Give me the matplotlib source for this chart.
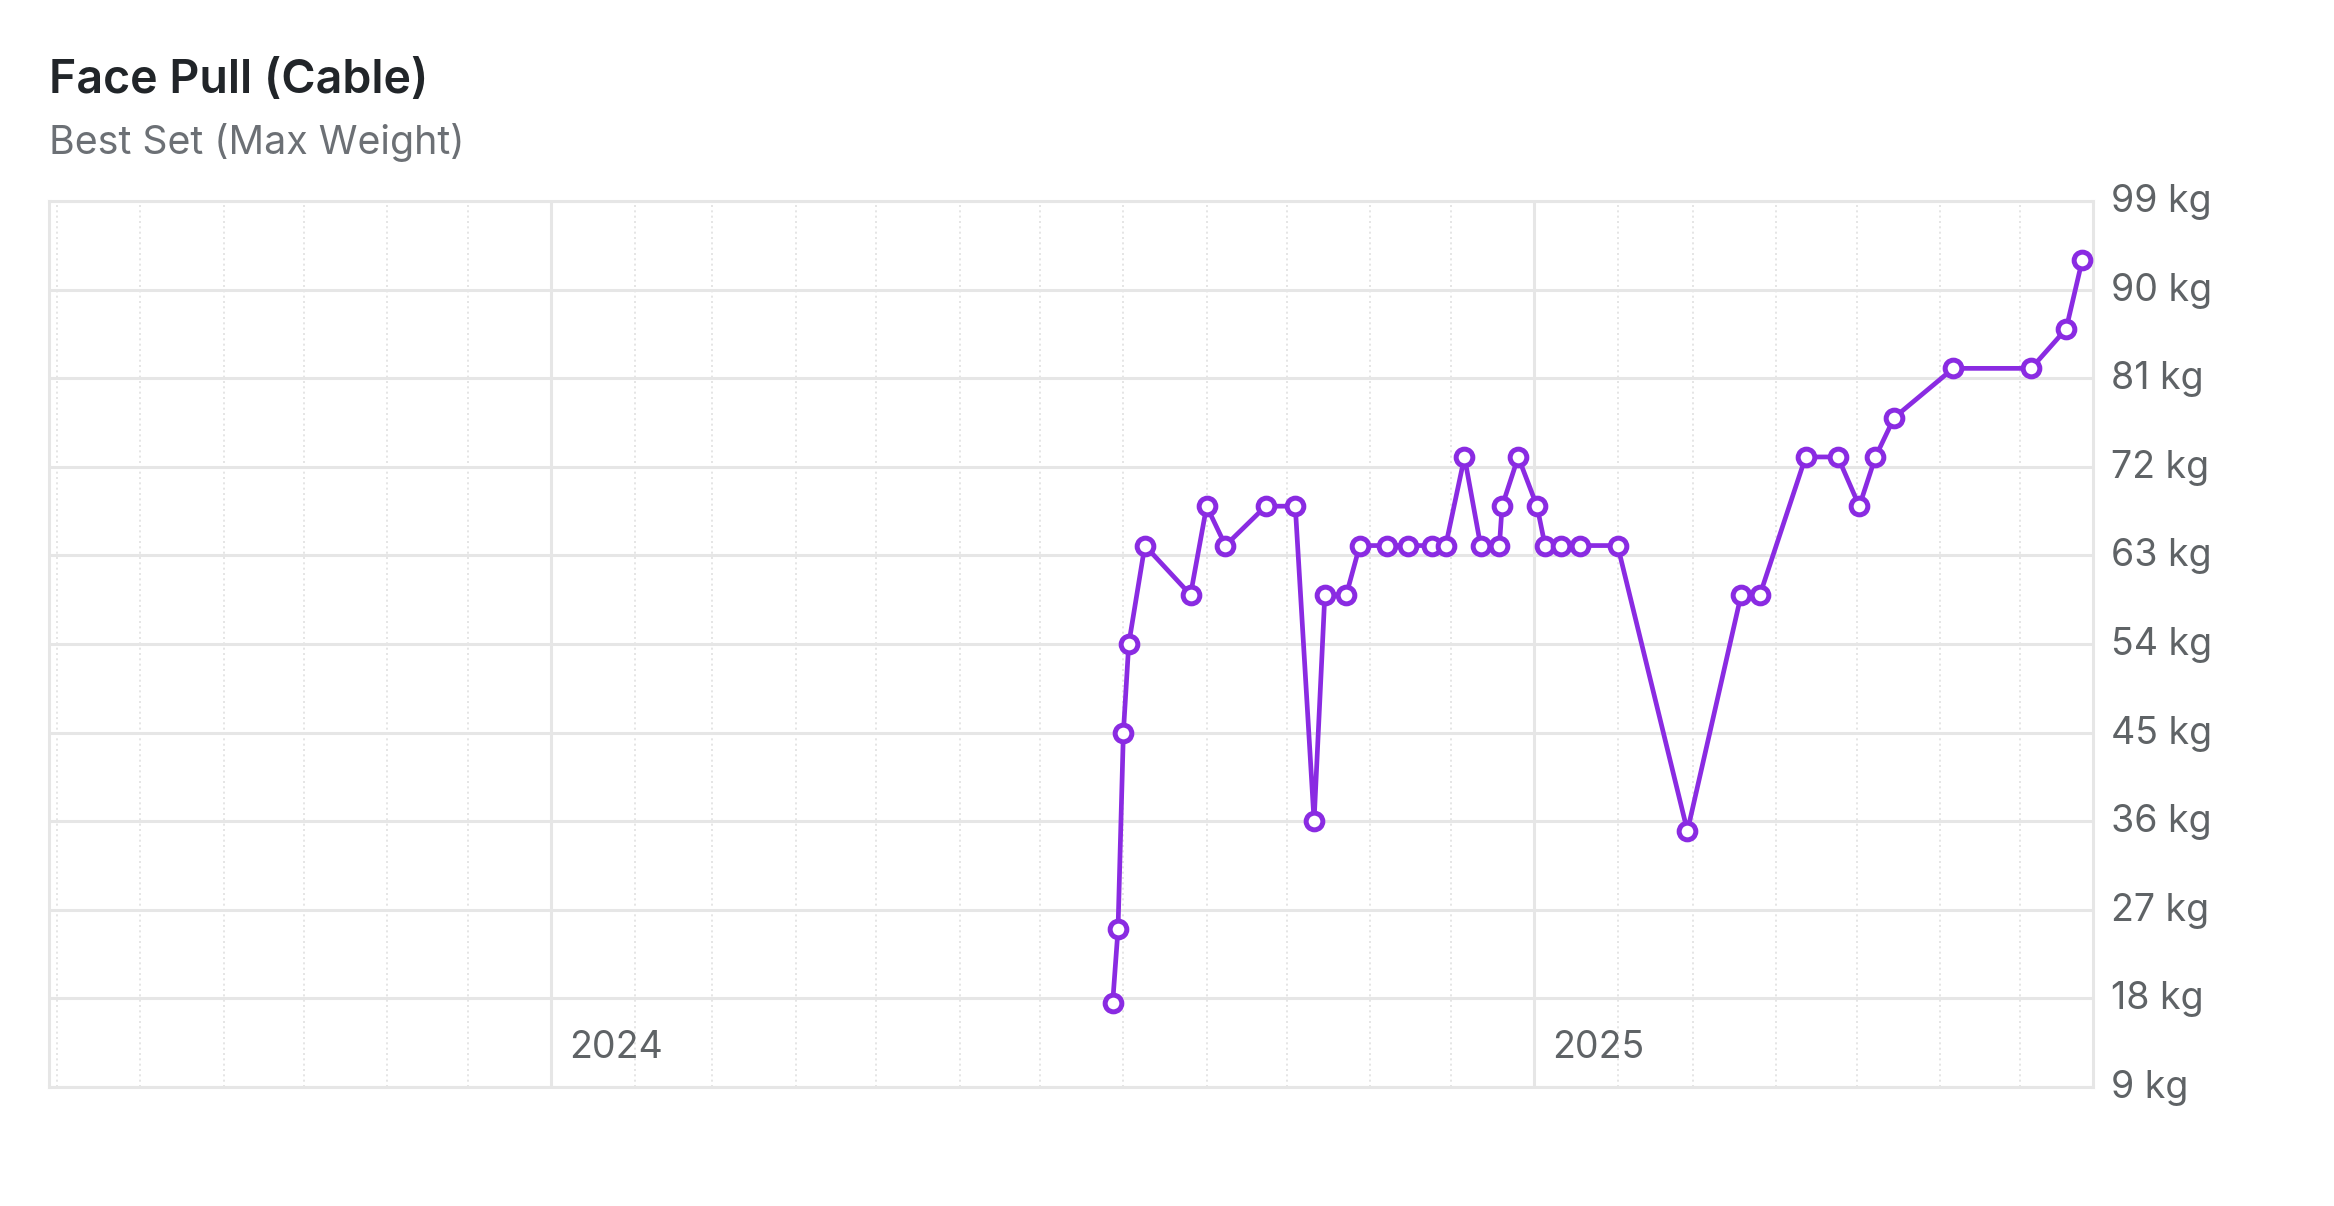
import matplotlib
matplotlib.use("Agg")
import matplotlib.pyplot as plt
import matplotlib.dates as mdates
import matplotlib.transforms as mtransforms
import pandas as pd

# ---- data ----
dates = [
    "2024-07-28", "2024-07-30", "2024-08-01", "2024-08-03", "2024-08-09",
    "2024-08-26", "2024-09-01", "2024-09-08", "2024-09-23", "2024-10-04",
    "2024-10-11", "2024-10-15", "2024-10-23", "2024-10-28", "2024-11-07",
    "2024-11-15", "2024-11-24", "2024-11-29", "2024-12-06", "2024-12-12",
    "2024-12-19", "2024-12-20", "2024-12-26", "2025-01-02", "2025-01-05",
    "2025-01-11", "2025-01-18", "2025-02-01", "2025-02-27", "2025-03-19",
    "2025-03-26", "2025-04-12", "2025-04-24", "2025-05-02", "2025-05-08",
    "2025-05-15", "2025-06-06", "2025-07-05", "2025-07-18", "2025-07-24",
]
weights = [
    17.5, 25, 45, 54, 64,
    59, 68, 64, 68, 68,
    36, 59, 59, 64, 64,
    64, 64, 64, 73, 64,
    64, 68, 73, 68, 64,
    64, 64, 64, 35, 59,
    59, 73, 73, 68, 73,
    77, 82, 82, 86, 93,
]
y_ticks = [9, 18, 27, 36, 45, 54, 63, 72, 81, 90, 99]
y_tick_labels = [f"{v} kg" for v in y_ticks]
year_ticks = ["2024-01-01", "2025-01-01"]
year_labels = ["2024", "2025"]
x_range = ["2023-06-28", "2025-07-28"]

title = "Face Pull (Cable)"
subtitle = "Best Set (Max Weight)"

# ---- style ----
FONT = ["Inter", "DejaVu Sans"]
plt.rcParams["font.family"] = FONT
PURPLE = "#8a2be2"
GRID = "#e6e6e6"
MINOR = "#e0e0e0"
LABEL = "#5f6366"

W, H = 2334, 1206
fig = plt.figure(figsize=(W / 100, H / 100), dpi=100)
left, right, top, bottom = 49, 2093, 201, 1087
ax = fig.add_axes([left / W, 1 - bottom / H, (right - left) / W, (bottom - top) / H])

x = pd.to_datetime(dates)
ax.plot(x, weights, color=PURPLE, lw=3.4, marker="o", ms=12,
        markerfacecolor="white", markeredgecolor=PURPLE, mew=3.6,
        zorder=5, solid_joinstyle="round")

ax.set_xlim(pd.to_datetime(x_range[0]), pd.to_datetime(x_range[1]))
ax.set_ylim(y_ticks[0], y_ticks[-1])

# y axis on the right
ax.set_yticks(y_ticks)
ax.set_yticklabels(y_tick_labels)
ax.yaxis.tick_right()
ax.tick_params(axis="y", length=0, pad=13, labelsize=27, labelcolor=LABEL)
shift = mtransforms.ScaledTranslation(0, 3 / 100, fig.dpi_scale_trans)
for lbl in ax.get_yticklabels():
    lbl.set_transform(lbl.get_transform() + shift)

# x: year major lines, month minor dotted lines
yt = pd.to_datetime(year_ticks)
ax.set_xticks(yt)
ax.set_xticklabels([])
ax.xaxis.set_minor_locator(mdates.MonthLocator())
ax.tick_params(axis="x", which="both", length=0)
ax.grid(True, axis="y", which="major", color=GRID, lw=2.2, zorder=0)
ax.grid(True, axis="x", which="major", color=GRID, lw=2.2, zorder=0)
ax.grid(True, axis="x", which="minor", color=MINOR, lw=1.2, ls=(0, (1.2, 2.0)), zorder=0)
ax.set_axisbelow(True)

for sp in ax.spines.values():
    sp.set_color(GRID)
    sp.set_linewidth(2.2)

# year labels inside plot, right of their gridline near bottom
for d, lab in zip(yt, year_labels):
    ax.annotate(lab, xy=(d, 0), xycoords=("data", "axes fraction"),
                xytext=(13, 21), textcoords="offset points",
                ha="left", va="baseline", fontsize=27, color=LABEL)

# titles
fig.text(49 / W, 1 - 93 / H, title, fontsize=33.5, fontweight="semibold",
         color="#212529", ha="left", va="baseline")
fig.text(49 / W, 1 - 154 / H, subtitle, fontsize=28.3, color="#6c7075",
         ha="left", va="baseline")

fig.savefig("out.png", dpi=100, facecolor="white")
